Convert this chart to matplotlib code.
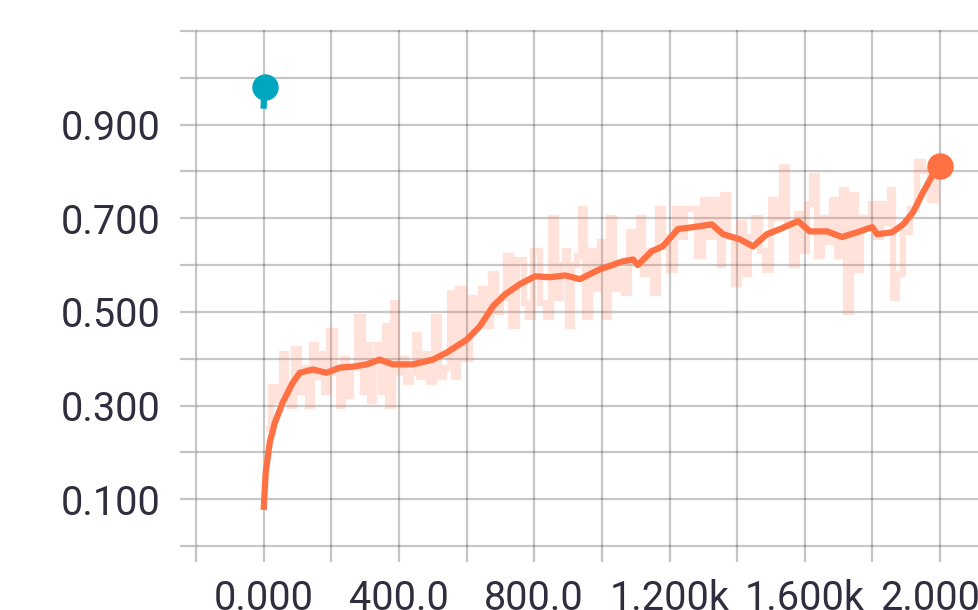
import matplotlib
matplotlib.use('Agg')
import matplotlib.pyplot as plt

# ── data ──────────────────────────────────────────────────────────────────────
raw_step = [15, 30, 49, 59, 74, 84, 98, 113, 123, 138, 148, 163, 172, 187, 202, 217, 231, 241,
            251, 266, 286, 300, 310, 320, 330, 340, 355, 364, 374, 389, 399, 414, 428, 443, 453,
            468, 483, 493, 512, 527, 542, 557, 571, 581, 601, 621, 635, 650, 665, 679, 694, 709,
            724, 738, 763, 777, 787, 807, 826, 841, 856, 871, 885, 895, 905, 920, 934, 944, 959,
            973, 988, 1003, 1013, 1027, 1042, 1057, 1071, 1091, 1106, 1116, 1130, 1145, 1160,
            1174, 1189, 1209, 1223, 1238, 1253, 1274, 1288, 1308, 1328, 1343, 1353, 1362, 1382,
            1397, 1412, 1427, 1441, 1461, 1476, 1491, 1511, 1525, 1540, 1555, 1570, 1585, 1600,
            1614, 1629, 1644, 1659, 1674, 1689, 1703, 1718, 1728, 1743, 1758, 1773, 1787, 1802,
            1817, 1832, 1847, 1856, 1866, 1881, 1901, 1921, 1940, 1960, 1980, 1995]
raw_value = [0.25, 0.34, 0.31, 0.41, 0.34, 0.30, 0.42, 0.33, 0.38, 0.30, 0.43, 0.36, 0.41, 0.33,
             0.46, 0.37, 0.30, 0.40, 0.32, 0.38, 0.49, 0.33, 0.43, 0.31, 0.40, 0.43, 0.33, 0.47,
             0.30, 0.52, 0.37, 0.40, 0.35, 0.37, 0.45, 0.36, 0.41, 0.35, 0.49, 0.36, 0.38, 0.54,
             0.36, 0.55, 0.40, 0.53, 0.475, 0.55, 0.47, 0.58, 0.50, 0.53, 0.62, 0.47, 0.61, 0.52,
             0.49, 0.63, 0.52, 0.49, 0.70, 0.53, 0.60, 0.63, 0.47, 0.60, 0.62, 0.72, 0.49, 0.63,
             0.55, 0.65, 0.49, 0.70, 0.55, 0.59, 0.54, 0.67, 0.61, 0.70, 0.58, 0.63, 0.54, 0.72,
             0.66, 0.59, 0.72, 0.66, 0.72, 0.72, 0.62, 0.74, 0.66, 0.74, 0.60, 0.75, 0.66, 0.56,
             0.69, 0.58, 0.66, 0.70, 0.63, 0.59, 0.74, 0.70, 0.81, 0.69, 0.60, 0.71, 0.63, 0.73,
             0.79, 0.62, 0.70, 0.65, 0.74, 0.62, 0.76, 0.50, 0.75, 0.59, 0.70, 0.68, 0.73, 0.66,
             0.73, 0.69, 0.76, 0.53, 0.58, 0.67, 0.72, 0.82, 0.80, 0.74, 0.80]

smooth_step = [0, 6, 18, 33, 56, 86, 107, 145, 186, 225, 263, 305, 343, 382, 441, 500, 541, 601,
               639, 678, 713, 757, 802, 846, 891, 935, 994, 1062, 1092, 1106, 1148, 1180, 1225,
               1269, 1325, 1358, 1408, 1447, 1488, 1527, 1580, 1615, 1666, 1710, 1754, 1799, 1814,
               1858, 1891, 1920, 1950, 1979, 2000]
smooth_value = [0.077, 0.156, 0.221, 0.263, 0.306, 0.349, 0.370, 0.377, 0.370, 0.381, 0.383,
                0.388, 0.398, 0.388, 0.388, 0.398, 0.413, 0.441, 0.469, 0.512, 0.537, 0.559,
                0.576, 0.574, 0.578, 0.570, 0.591, 0.608, 0.612, 0.600, 0.630, 0.640, 0.677,
                0.681, 0.687, 0.666, 0.655, 0.640, 0.666, 0.677, 0.694, 0.672, 0.672, 0.660,
                0.670, 0.681, 0.666, 0.670, 0.687, 0.713, 0.756, 0.794, 0.812]

cyan_step = [0, 1, 5]
cyan_value = [0.934, 0.962, 0.981]

x_ticks = [-200, 0, 200, 400, 600, 800, 1000, 1200, 1400, 1600, 1800, 2000]
x_labels = ['', '0.000', '', '400.0', '', '800.0', '', '1.200k', '', '1.600k', '', '2.000k']
y_ticks = [0.0, 0.1, 0.2, 0.3, 0.4, 0.5, 0.6, 0.7, 0.8, 0.9, 1.0, 1.1]
y_labels = ['', '0.100', '', '0.300', '', '0.500', '', '0.700', '', '0.900', '', '']

ORANGE = '#ff7043'
CYAN = '#00a5bf'
TXT = '#2e2e3e'

plt.rcParams['font.family'] = ['Roboto', 'DejaVu Sans']

fig = plt.figure(figsize=(9.79, 6.10), dpi=100)
ax = fig.add_axes([196 / 979, 64 / 610, 783 / 979, 515 / 610])

ax.plot(raw_step, raw_value, color=ORANGE, alpha=0.2, lw=4.5, drawstyle='steps-mid',
        solid_joinstyle='miter')
ax.plot(smooth_step, smooth_value, color=ORANGE, lw=4.5, solid_capstyle='butt')
ax.plot(smooth_step[-1:], smooth_value[-1:], 'o', color=ORANGE, ms=18)
ax.plot(cyan_step, cyan_value, color=CYAN, lw=4.5, solid_capstyle='butt')
ax.plot(cyan_step[-1:], cyan_value[-1:], 'o', color=CYAN, ms=18)

ax.set_xlim(-200, 2115)
ax.set_ylim(0, 1.1)
ax.set_xticks(x_ticks, x_labels)
ax.set_yticks(y_ticks, y_labels)
ax.set_axisbelow(True)
ax.grid(True, color='black', alpha=0.22, lw=1.6)
for gl in ax.get_xgridlines() + ax.get_ygridlines():
    gl.set_clip_on(False)
for s in ax.spines.values():
    s.set_visible(False)
ax.tick_params(axis='both', length=11.5, width=1.6, color='#c4c4c4', labelsize=28.5,
               labelcolor=TXT)
ax.tick_params(axis='y', pad=14)
ax.tick_params(axis='x', pad=12)

fig.savefig('out.png', dpi=100)
